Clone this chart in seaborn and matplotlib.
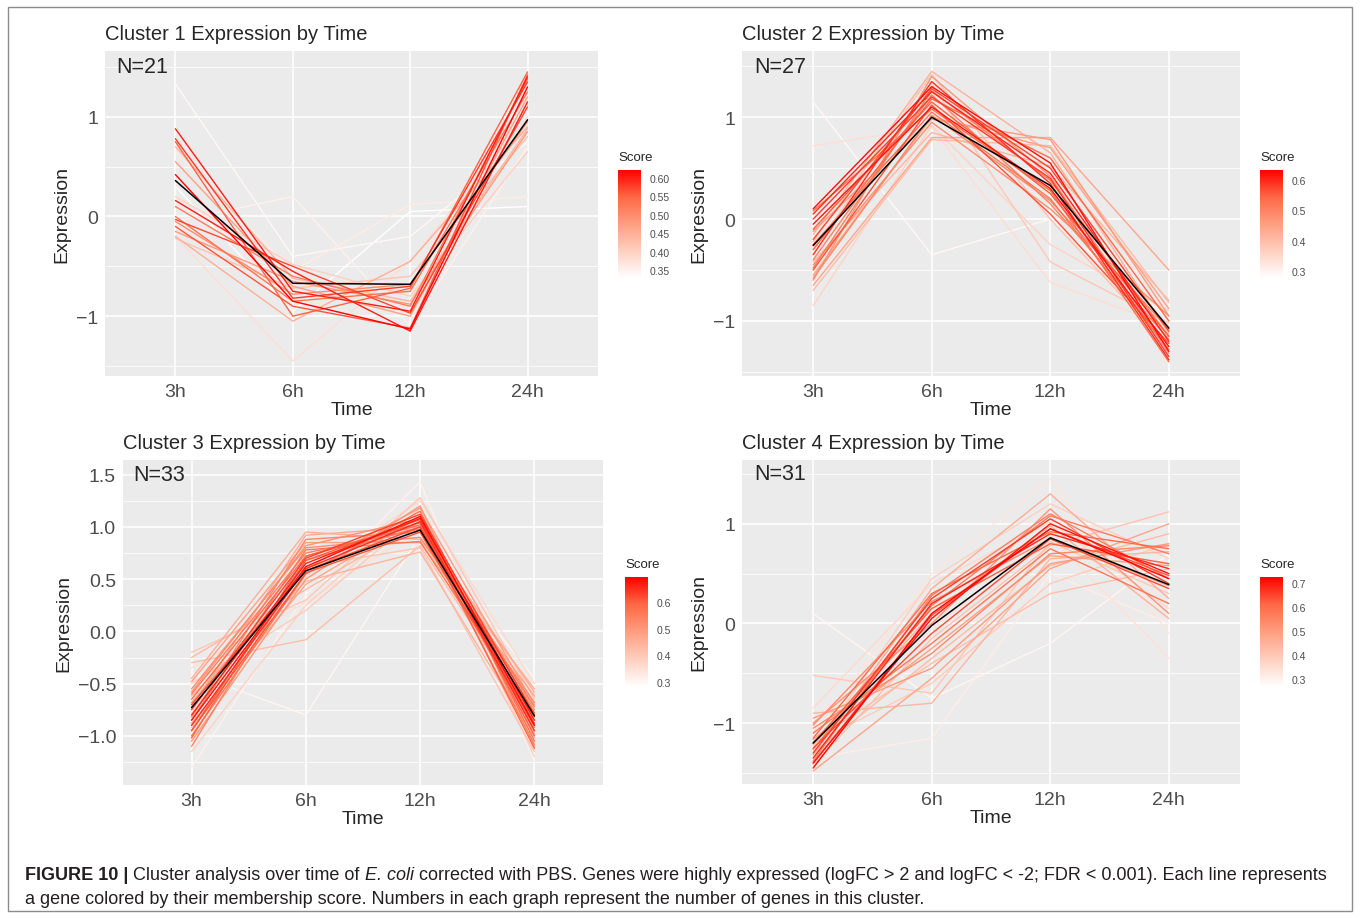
import matplotlib
matplotlib.use('Agg')
import numpy as np
import pandas as pd
import seaborn as sns
import matplotlib.pyplot as plt
from matplotlib.colors import LinearSegmentedColormap, Normalize
from matplotlib.cm import ScalarMappable
from matplotlib.patches import Rectangle
from matplotlib import font_manager

times = ['3h', '6h', '12h', '24h']

# cluster 1 : expression at 3h, 6h, 12h, 24h per gene
c1_expr = [
    [0.88, -0.75, -0.95, 1.40], [0.78, -0.82, -0.70, 1.35], [0.75, -1.00, -0.72, 1.45],
    [0.42, -0.85, -1.13, 1.30], [0.16, -0.55, -1.15, 1.15], [0.10, -0.60, -0.90, 1.38],
    [-0.03, -0.50, -0.97, 1.10], [-0.05, -0.78, -0.68, 0.95], [-0.15, -0.65, -0.88, 0.85],
    [-0.20, -1.05, -0.45, 0.90], [-0.22, -0.72, -0.60, 0.80], [1.33, -0.40, -0.20, 0.75],
    [0.65, -0.55, 0.12, 0.20], [-0.05, 0.20, -1.10, 0.70], [-0.20, -1.45, -0.45, 1.00],
    [0.30, -0.95, 0.05, 0.10], [0.55, -0.70, -1.00, 1.20], [0.00, -0.85, -0.75, 1.25],
    [0.20, -0.48, -0.80, 0.65], [-0.10, -0.90, -1.12, 1.42], [0.70, -0.62, -0.85, 0.88],
]
c1_score = [0.60, 0.58, 0.55, 0.62, 0.60, 0.52, 0.57, 0.50, 0.48, 0.45, 0.42,
            0.34, 0.36, 0.35, 0.38, 0.33, 0.47, 0.53, 0.40, 0.56, 0.44]
c1_center = [0.36, -0.67, -0.68, 0.97]

# cluster 2
c2_expr = [
    [0.10, 1.30, 0.55, -1.30], [0.05, 1.25, 0.45, -1.20], [0.00, 1.20, 0.40, -1.35],
    [-0.05, 1.10, 0.30, -1.25], [-0.10, 1.15, 0.25, -1.15], [-0.20, 1.28, 0.50, -1.10],
    [-0.25, 1.05, 0.20, -1.28], [-0.30, 1.18, 0.60, -1.00], [-0.35, 1.35, 0.35, -1.38],
    [-0.40, 1.22, 0.15, -1.18], [-0.45, 0.95, 0.10, -0.95], [-0.50, 1.12, 0.05, -1.22],
    [-0.55, 1.00, 0.70, -0.88], [-0.60, 1.40, 0.42, -1.32], [-0.65, 0.80, 0.80, -0.50],
    [-0.70, 0.78, 0.72, -0.82], [-0.85, 0.92, -0.25, -0.90], [0.72, 0.90, -0.62, -1.05],
    [1.15, -0.35, 0.00, -0.98], [-0.15, 1.45, 0.65, -1.12], [-0.30, 1.32, -0.42, -1.02],
    [0.08, 1.08, 0.28, -1.40], [-0.42, 0.85, 0.52, -0.80], [-0.22, 1.42, 0.00, -1.25],
    [-0.58, 1.02, 0.18, -1.08], [-0.12, 0.98, 0.78, -0.95], [-0.48, 1.26, 0.38, -1.15],
]
c2_score = [0.62, 0.60, 0.58, 0.61, 0.55, 0.57, 0.52, 0.54, 0.59, 0.50, 0.48, 0.56,
            0.45, 0.47, 0.44, 0.40, 0.36, 0.34, 0.29, 0.42, 0.38, 0.53, 0.41, 0.39,
            0.49, 0.46, 0.51]
c2_center = [-0.26, 1.00, 0.33, -1.07]

# cluster 3
c3_expr = [
    [-0.85, 0.62, 1.10, -0.90], [-0.80, 0.65, 1.08, -0.85], [-0.90, 0.60, 1.05, -0.95],
    [-0.75, 0.70, 1.12, -0.80], [-0.70, 0.58, 1.00, -0.88], [-0.95, 0.68, 1.07, -1.00],
    [-0.65, 0.72, 1.02, -0.78], [-1.00, 0.55, 1.15, -1.05], [-0.60, 0.75, 0.98, -0.72],
    [-0.82, 0.88, 0.95, -0.92], [-0.55, 0.80, 0.90, -0.68], [-1.05, 0.50, 1.20, -1.10],
    [-0.48, 0.85, 0.85, -0.62], [-0.88, 0.45, 1.10, -0.98], [-0.45, 0.95, 0.88, -0.55],
    [-0.25, 0.40, 1.05, -0.75], [-0.20, 0.30, 1.28, -0.65], [-1.15, 0.25, 1.18, -1.20],
    [-0.30, -0.08, 0.82, -0.85], [-0.62, 0.48, 0.76, -1.02], [-1.30, 0.35, 1.43, -1.25],
    [-0.40, -0.80, 0.92, -0.45], [-0.72, 0.92, 1.00, -0.58], [-0.92, 0.62, 0.80, -1.15],
    [-0.78, 0.52, 1.25, -0.50], [-0.50, 0.20, 1.12, -0.95], [-1.10, 0.68, 1.00, -1.08],
    [-0.85, 0.78, 0.86, -0.82], [-0.68, 0.60, 1.18, -0.70], [-0.95, 0.56, 0.95, -0.90],
    [-0.58, 0.82, 1.08, -0.75], [-0.35, 0.28, 0.98, -0.60], [-1.02, 0.72, 1.04, -1.12],
]
c3_score = [0.68, 0.66, 0.65, 0.63, 0.62, 0.60, 0.58, 0.57, 0.55, 0.53, 0.52, 0.50,
            0.48, 0.47, 0.45, 0.43, 0.40, 0.38, 0.42, 0.44, 0.31, 0.30, 0.46, 0.41,
            0.36, 0.39, 0.54, 0.56, 0.49, 0.61, 0.51, 0.35, 0.59]
c3_center = [-0.73, 0.58, 0.97, -0.81]

# cluster 4
c4_expr = [
    [-1.45, 0.10, 0.95, 0.45], [-1.40, 0.05, 1.00, 0.50], [-1.35, 0.20, 0.90, 0.55],
    [-1.30, 0.25, 1.05, 0.40], [-1.25, -0.10, 0.85, 0.35], [-1.20, 0.15, 0.80, 0.60],
    [-1.15, 0.30, 0.92, 0.75], [-1.10, -0.20, 0.75, 0.20], [-1.38, 0.28, 1.10, 0.45],
    [-1.05, -0.30, 0.70, 0.78], [-1.00, 0.00, 1.15, 0.10], [-0.95, -0.45, 0.60, 0.80],
    [-1.48, -0.55, 0.55, 1.00], [-1.32, 0.35, 1.30, 0.25], [-0.90, -0.80, 0.65, 0.72],
    [-1.22, 0.10, 0.98, 0.05], [-1.18, -0.40, 0.30, 0.55], [-0.52, -0.70, 0.82, 0.30],
    [-1.28, 0.45, 1.20, 0.65], [-1.42, -0.15, 0.78, 1.12], [-1.12, 0.50, 1.45, -0.10],
    [-1.35, -1.15, 0.50, 0.00], [0.10, -0.75, -0.20, 0.70], [-1.08, -0.05, 0.88, -0.35],
    [-1.26, 0.18, 1.08, 0.70], [-1.40, 0.08, 0.95, 0.48], [-1.16, -0.25, 0.68, 0.58],
    [-1.02, 0.22, 0.85, 0.38], [-1.30, -0.35, 0.58, 0.90], [-0.85, 0.40, 1.02, 0.15],
    [-1.20, -0.60, 0.40, 0.80],
]
c4_score = [0.72, 0.70, 0.68, 0.66, 0.64, 0.62, 0.60, 0.58, 0.56, 0.54, 0.52, 0.50,
            0.48, 0.46, 0.44, 0.45, 0.42, 0.40, 0.38, 0.41, 0.33, 0.31, 0.29, 0.34,
            0.57, 0.63, 0.49, 0.53, 0.43, 0.36, 0.39]
c4_center = [-1.20, -0.02, 0.86, 0.39]

sns.set_theme(style='darkgrid', rc={'axes.facecolor': '#EBEBEB', 'grid.color': 'white'})
plt.rcParams['font.family'] = ['Liberation Sans', 'DejaVu Sans']

# white -> red, roughly like ggplot's Lab gradient
score_cmap = LinearSegmentedColormap.from_list(
    'score', ['#FFFFFF', '#FFCFBF', '#FF9E81', '#FF6846', '#FF0000'])

W, H = 1360, 920
fig = plt.figure(figsize=(W / 100, H / 100), dpi=100)


def px(x, y, w=0, h=0):
    # pixel box (top-left origin) -> figure fraction rect
    return [x / W, 1 - (y + h) / H, w / W, h / H]


def draw_cluster(ax_box, cb_box, expr, score, center, title, n, ylim, yticks,
                 ylabels, cb_lim, cb_ticks, cb_labels):
    ax = fig.add_axes(px(*ax_box))
    rows = []
    for g, (vals, s) in enumerate(zip(expr, score)):
        for i, v in enumerate(vals):
            rows.append({'gene': g, 'pos': i + 1, 'expr': v, 'score': s})
    df = pd.DataFrame(rows)

    sns.lineplot(data=df, x='pos', y='expr', units='gene', estimator=None,
                 hue='score', palette=score_cmap, hue_norm=cb_lim,
                 legend=False, lw=1.0, sort=False, ax=ax)
    sns.lineplot(x=[1, 2, 3, 4], y=center, color='black', lw=1.1, ax=ax)

    ax.set_xlim(0.4, 4.6)
    ax.set_ylim(*ylim)
    ax.set_xticks([1, 2, 3, 4])
    ax.set_xticklabels(times)
    ax.set_yticks(yticks)
    ax.set_yticklabels(ylabels)
    step = yticks[1] - yticks[0]
    ax.set_yticks(np.arange(yticks[0] - step / 2, ylim[1], step), minor=True)
    ax.grid(which='major', color='white', lw=1.1)
    ax.grid(which='minor', axis='y', color='white', lw=0.55)
    ax.tick_params(which='major', length=3, width=0.8, color='#333333',
                   labelsize=14, labelcolor='#4D4D4D', pad=2)
    ax.tick_params(which='minor', length=0)
    ax.set_xlabel('Time', fontsize=14, labelpad=1)
    ax.set_ylabel('Expression', fontsize=14, labelpad=4)
    for sp in ax.spines.values():
        sp.set_visible(False)
    ax.text(0.72, 1.5, f'N={n}', fontsize=15.5, ha='center', va='center')

    fig.text(ax_box[0] / W, 1 - (ax_box[1] - 17) / H, title, fontsize=14.5,
             ha='left', va='center')

    cax = fig.add_axes(px(*cb_box))
    sm = ScalarMappable(norm=Normalize(*cb_lim), cmap=score_cmap)
    cb = fig.colorbar(sm, cax=cax)
    cb.outline.set_visible(False)
    cb.set_ticks(cb_ticks)
    cb.set_ticklabels(cb_labels)
    cax.tick_params(direction='in', color='white', length=4, width=0.8,
                    left=True, right=True, labelsize=7.5, labelcolor='#4D4D4D', pad=6)
    fig.text(cb_box[0] / W, 1 - (cb_box[1] - 13) / H, 'Score', fontsize=9.5,
             ha='left', va='center')


draw_cluster((105, 52, 493, 325), (618, 171, 23, 108), c1_expr, c1_score, c1_center,
             'Cluster 1 Expression by Time', 21, (-1.60, 1.66), [-1, 0, 1],
             ['\u22121', '0', '1'], (0.329, 0.621),
             [0.35, 0.40, 0.45, 0.50, 0.55, 0.60],
             ['0.35', '0.40', '0.45', '0.50', '0.55', '0.60'])
draw_cluster((742, 52, 498, 325), (1260, 171, 23, 108), c2_expr, c2_score, c2_center,
             'Cluster 2 Expression by Time', 27, (-1.54, 1.65), [-1, 0, 1],
             ['\u22121', '0', '1'], (0.277, 0.632), [0.3, 0.4, 0.5, 0.6],
             ['0.3', '0.4', '0.5', '0.6'])
draw_cluster((123, 461, 480, 325), (625, 578, 23, 110), c3_expr, c3_score, c3_center,
             'Cluster 3 Expression by Time', 33, (-1.47, 1.64),
             [-1.0, -0.5, 0.0, 0.5, 1.0, 1.5],
             ['\u22121.0', '\u22120.5', '0.0', '0.5', '1.0', '1.5'],
             (0.28, 0.694), [0.3, 0.4, 0.5, 0.6], ['0.3', '0.4', '0.5', '0.6'])
draw_cluster((742, 461, 498, 324), (1260, 578, 23, 110), c4_expr, c4_score, c4_center,
             'Cluster 4 Expression by Time', 31, (-1.61, 1.64), [-1, 0, 1],
             ['\u22121', '0', '1'], (0.267, 0.725), [0.3, 0.4, 0.5, 0.6, 0.7],
             ['0.3', '0.4', '0.5', '0.6', '0.7'])

# frame around the whole figure
fig.add_artist(Rectangle((8 / W, 8 / H), 1 - 16 / W, 1 - 16 / H, transform=fig.transFigure,
                         fill=False, edgecolor='#8C8C8C', lw=1))

# caption, narrow font if available
names = {f.name for f in font_manager.fontManager.ttflist}
if 'Liberation Sans Narrow' in names:
    cap_font, cap_size = 'Liberation Sans Narrow', 12
else:
    cap_font, cap_size = 'Liberation Sans', 13

line1 = [('FIGURE 10 |', 'bold', 'normal'),
         (' Cluster analysis over time of ', 'normal', 'normal'),
         ('E. coli', 'normal', 'italic'),
         (' corrected with PBS. Genes were highly expressed (logFC > 2 and logFC < -2; '
          'FDR < 0.001). Each line represents', 'normal', 'normal')]
line2 = 'a gene colored by their membership score. Numbers in each graph represent the number of genes in this cluster.'

renderer = fig.canvas.get_renderer()
x = 25 / W
for s, wgt, sty in line1:
    t = fig.text(x, 1 - 876 / H, s, fontsize=cap_size, family=cap_font, weight=wgt,
                 style=sty, color='#231F20', ha='left', va='center')
    bb = t.get_window_extent(renderer)
    x = bb.x1 / W
fig.text(25 / W, 1 - 900 / H, line2, fontsize=cap_size, family=cap_font,
         color='#231F20', ha='left', va='center')

fig.savefig('out.png', dpi=100)
